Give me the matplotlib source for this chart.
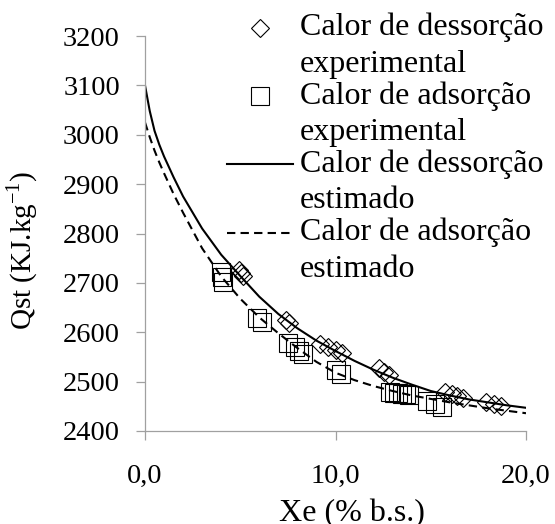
import matplotlib
matplotlib.use("Agg")
import matplotlib.pyplot as plt
import numpy as np

plt.rcParams['font.family'] = ['Liberation Serif', 'DejaVu Serif']

# --- dados ---
x_des = [4.95, 5.05, 5.15, 7.4, 7.55, 9.2, 9.6, 10.0, 10.35, 12.3, 12.55, 12.8,
         15.75, 16.1, 16.4, 16.7, 17.9, 18.3, 18.7]
q_des = [2726, 2720, 2714, 2624, 2618, 2576, 2570, 2564, 2558, 2527, 2520, 2513,
         2479, 2475, 2471, 2467, 2458, 2454, 2450]

x_ads = [4.0, 4.05, 4.1, 5.9, 6.15, 7.5, 7.85, 8.1, 8.3, 10.05, 10.3,
         12.87, 13.08, 13.3, 13.5, 13.7, 13.87, 14.8, 15.2, 15.6]
q_ads = [2722, 2712, 2702, 2628, 2620, 2578, 2570, 2562, 2556, 2524, 2516,
         2478, 2477, 2476, 2475, 2474, 2473, 2460, 2454, 2448]

x_est = [0, 0.25, 0.5, 0.75, 1, 1.5, 2, 3, 4, 5, 6, 7, 8, 9, 10, 11, 12, 13,
         14, 15, 16, 17, 18, 19, 20]
q_des_est = [3100, 3048, 3008, 2980, 2956, 2914, 2875, 2810, 2757, 2714, 2672,
             2637, 2608, 2583, 2562, 2542, 2524, 2508, 2494, 2481, 2472, 2464,
             2458, 2452, 2447]
q_ads_est = [3025, 2995, 2968, 2944, 2922, 2880, 2842, 2770, 2713, 2668, 2630,
             2598, 2568, 2540, 2518, 2503, 2491, 2481, 2472, 2465, 2458, 2452,
             2446, 2441, 2436]

labels = ["Calor de dessorção\nexperimental",
          "Calor de adsorção\nexperimental",
          "Calor de dessorção\nestimado",
          "Calor de adsorção\nestimado"]

fs = 20.5
fs_leg = 23
fig = plt.figure(figsize=(5.55, 5.24), dpi=100)
ax = fig.add_axes([145/555, 93/524, 381/555, 395/524])

ax.plot(x_des, q_des, linestyle='none', marker='D', ms=9.2, mfc='none',
        mec='black', mew=0.8, label=labels[0])
ax.plot(x_ads, q_ads, linestyle='none', marker='s', ms=13, mfc='none',
        mec='black', mew=0.8, label=labels[1])
ax.plot(x_est, q_des_est, color='black', lw=1.5, label=labels[2])
ax.plot(x_est, q_ads_est, color='black', lw=1.5, dashes=(4, 2.5), label=labels[3])

ax.set_xlim(0, 20)
ax.set_ylim(2400, 3200)
ax.set_xticks([0, 10, 20])
ax.set_xticklabels(["0,0", "10,0", "20,0"])
ax.set_yticks(range(2400, 3201, 100))

for s in ['top', 'right']:
    ax.spines[s].set_visible(False)
for s in ['left', 'bottom']:
    ax.spines[s].set_color('#a0a0a0')
    ax.spines[s].set_linewidth(0.9)
ax.tick_params(axis='both', direction='out', length=6.5, width=0.9,
               color='#a0a0a0', labelsize=fs)
ax.tick_params(axis='y', pad=11.5)
ax.tick_params(axis='x', pad=17)

ax.set_xlabel("Xe (% b.s.)", fontsize=fs_leg)
ax.set_ylabel("Qst (KJ.kg$^{\\mathregular{-1}}$)", fontsize=21)
ax.xaxis.set_label_coords(0.543, -0.172)
ax.yaxis.set_label_coords(-0.275, 0.458)

leg = ax.legend(loc='upper left', bbox_to_anchor=(227/555, 1 - 13/524),
                bbox_transform=fig.transFigure, frameon=False, fontsize=fs_leg,
                handlelength=2.07, handletextpad=0.22, borderpad=0,
                borderaxespad=0, labelspacing=0.08, numpoints=1)
for t in leg.get_texts():
    t.set_linespacing(1.33)
# alinhar o simbolo com a primeira linha do texto
for h in leg.legend_handles:
    y = np.asarray(h.get_ydata(), dtype=float)
    h.set_ydata(y + 13)

fig.savefig("out.png", dpi=100)
